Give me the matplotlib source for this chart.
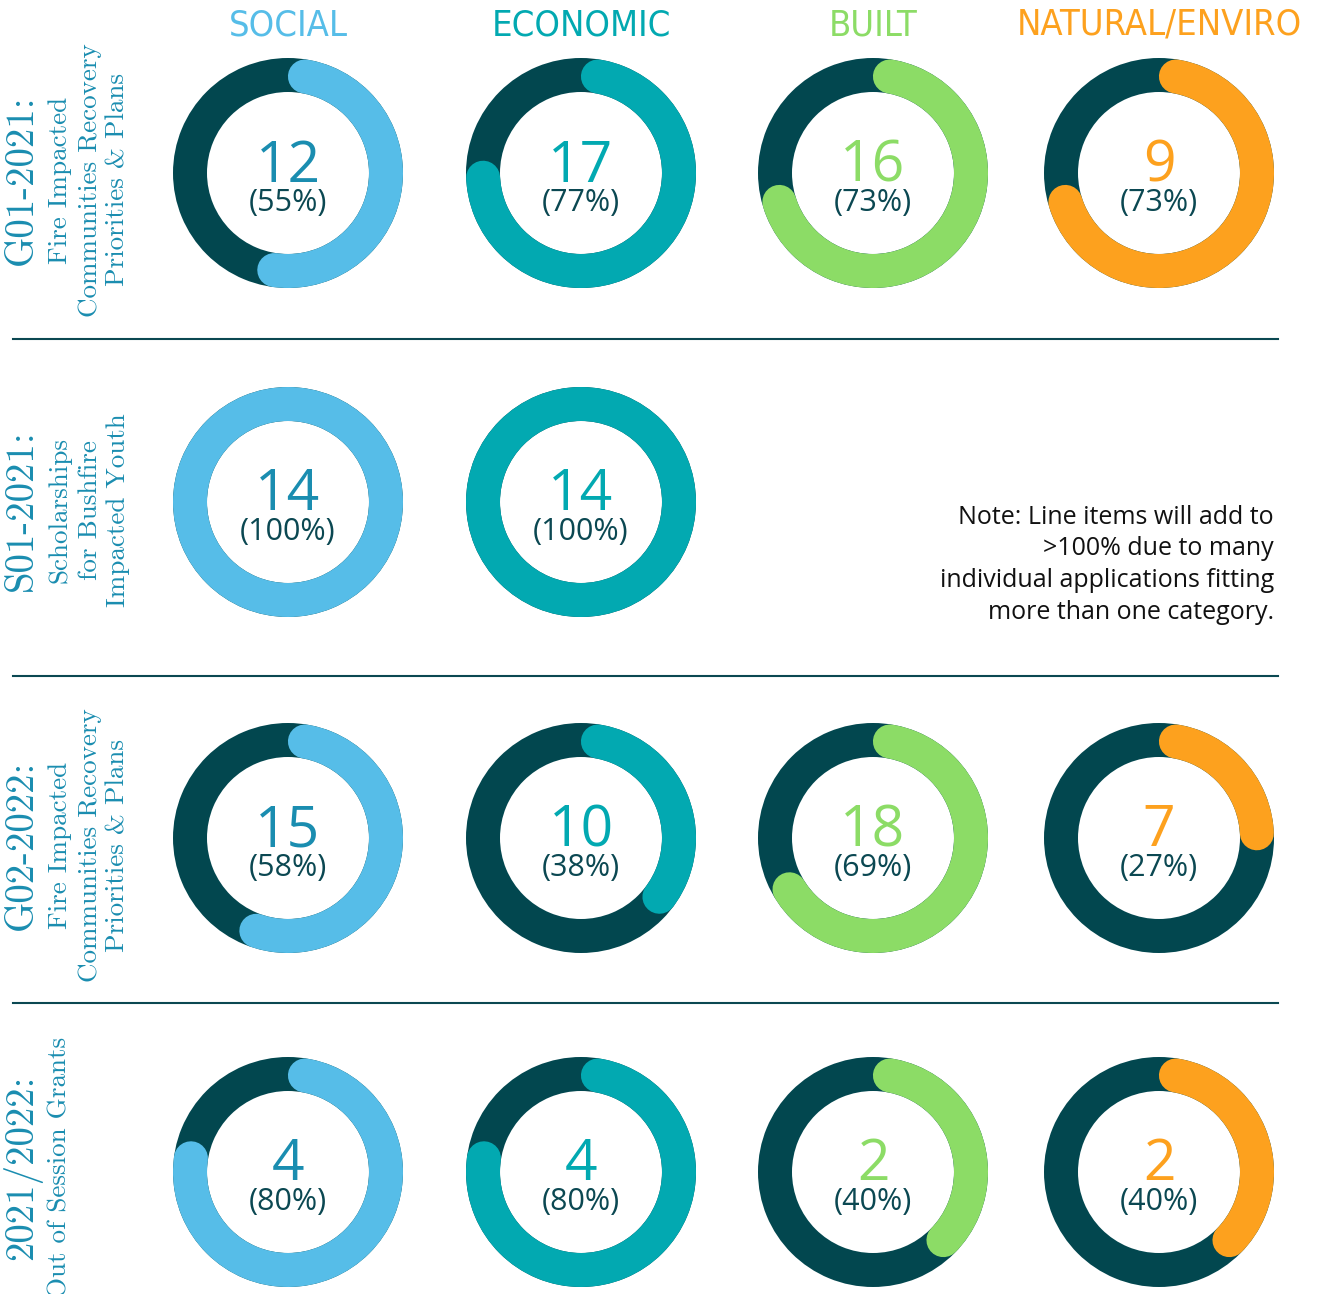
import numpy as np
import matplotlib.pyplot as plt
from matplotlib.patches import Wedge

# data
categories = ["SOCIAL", "ECONOMIC", "BUILT", "NATURAL/ENVIRO"]
cat_colors = ["#56BDE8", "#02A9B1", "#8CDC66", "#FDA11E"]
num_colors = ["#1A8DB0", "#02A9B1", "#8CDC66", "#FDA11E"]
row_titles = ["G01-2021:", "S01-2021:", "G02-2022:", "2021/2022:"]
row_subtitles = [
    ["Fire Impacted", "Communities Recovery", "Priorities & Plans"],
    ["Scholarships", "for Bushfire", "Impacted Youth"],
    ["Fire Impacted", "Communities Recovery", "Priorities & Plans"],
    ["Out of Session Grants"],
]
counts = [
    [12, 17, 16, 9],
    [14, 14, None, None],
    [15, 10, 18, 7],
    [4, 4, 2, 2],
]
percents = [
    [55, 77, 73, 73],
    [100, 100, None, None],
    [58, 38, 69, 27],
    [80, 80, 40, 40],
]
note_lines = ["Note: Line items will add to", ">100% due to many",
              "individual applications fitting", "more than one category."]

# layout (pixels)
W, H = 1318, 1294
col_x = [288, 581, 873, 1159]
row_y = [173, 502, 838, 1172]
label_y = [180, 510, 845, 1167]
sep_y = [339, 676, 1003]
R_OUT, RING = 115, 34
dark = "#02474F"
label_col = "#1A8DB0"
pct_col = "#0B4852"

fig = plt.figure(figsize=(W / 100, H / 100), dpi=100)
ax = fig.add_axes([0, 0, 1, 1])
ax.set_xlim(0, W)
ax.set_ylim(H, 0)
ax.axis("off")

lw = RING * 72 / 100
r_mid = R_OUT - RING / 2
cap = np.degrees((RING / 2) / r_mid)

for i, (cnts, pcts) in enumerate(zip(counts, percents)):
    cy = row_y[i]
    for j, (n, p) in enumerate(zip(cnts, pcts)):
        if n is None:
            continue
        cx = col_x[j]
        ax.add_patch(Wedge((cx, cy), R_OUT, 0, 360, width=RING, color=dark, lw=0))
        if p >= 100:
            ax.add_patch(Wedge((cx, cy), R_OUT, 0, 360, width=RING,
                               color=cat_colors[j], lw=0))
        else:
            t = np.radians(np.linspace(cap, p * 3.6 - cap, 200))
            ax.plot(cx + r_mid * np.sin(t), cy - r_mid * np.cos(t),
                    color=cat_colors[j], lw=lw, solid_capstyle="round")
        ax.text(cx, cy - 6, str(n), ha="center", va="center", fontsize=41,
                family="Open Sans", color=num_colors[j])
        ax.text(cx, cy + 30, f"({p}%)", ha="center", va="center", fontsize=22,
                family="Open Sans", color=pct_col)

# headers
for j, c in enumerate(categories):
    ax.text(col_x[j], 25, c, ha="center", va="center", fontsize=26,
            family="DejaVu Sans", fontstretch="condensed", color=cat_colors[j])

# row labels
sub_x = [60, 90, 118]
for i, t in enumerate(row_titles):
    ax.text(22, label_y[i], t, rotation=90, ha="center", va="center",
            fontsize=28, family="cmr10", color=label_col)
    for k, s in enumerate(row_subtitles[i]):
        ax.text(sub_x[k], label_y[i], s, rotation=90, ha="center", va="center",
                fontsize=19.5, family="cmr10", color=label_col)

for y in sep_y:
    ax.plot([13, 1278], [y, y], color="#0B4852", lw=1.5)

for k, s in enumerate(note_lines):
    ax.text(1274, 517 + k * 31.7, s, ha="right", va="center", fontsize=18,
            family="Open Sans", color="#111111")

fig.savefig("out.png", dpi=100)
